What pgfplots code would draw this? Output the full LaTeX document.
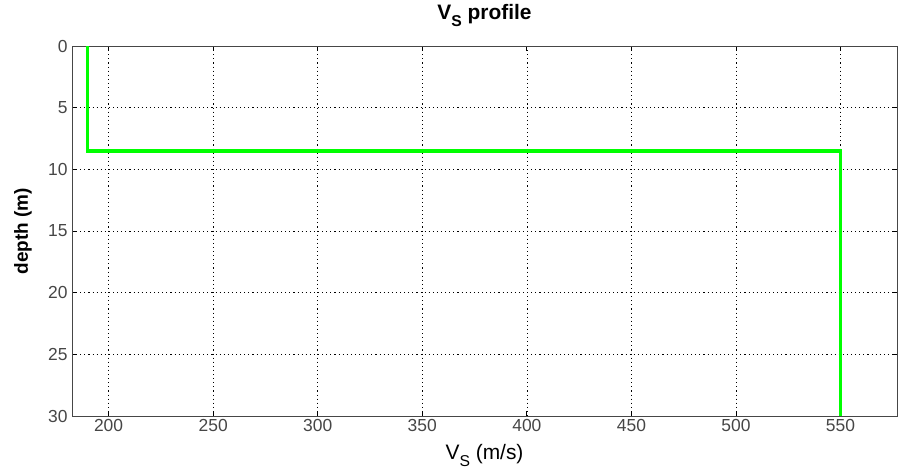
\documentclass[border=0pt]{standalone}
\usepackage{fontspec}
\setmainfont{Liberation Sans}
\usepackage{graphicx}
\usepackage{pgfplots}
\pgfplotsset{compat=1.18}
\definecolor{vsgreen}{RGB}{0,255,0}
\definecolor{ticktext}{RGB}{70,70,70}
% MATLAB-like subscript: large and dropped well below the baseline
\newcommand\msub[1]{\raisebox{-0.38em}{\scalebox{0.75}{#1}}}
\begin{document}
\begin{tikzpicture}
\begin{axis}[
  scale only axis,
  width=825bp, height=370bp,
  xmin=182.5, xmax=577,
  ymin=0, ymax=30,
  y dir=reverse,
  xtick={200,250,...,550},
  ytick={0,5,...,30},
  tick align=inside,
  major tick length=5bp,
  grid=major,
  grid style={black, dash pattern=on 1.1bp off 3bp, line width=0.7pt},
  axis line style={ticktext, line width=0.9pt},
  tick style={black, line width=0.9pt},
  ticklabel style={font=\fontsize{17.5}{19}\selectfont, text=ticktext},
  yticklabel style={xshift=-1bp},
  /pgf/number format/assume math mode=true,
  title={\textbf{V\msub{S} profile}},
  title style={font=\fontsize{21}{23}\selectfont, at={(axis description cs:0.5,1)}, anchor=base, yshift=21bp},
  xlabel={V\msub{S} (m/s)},
  xlabel style={font=\fontsize{21}{23}\selectfont, at={(axis description cs:0.5,0)}, anchor=base, yshift=-43bp},
  ylabel={\textbf{depth (m)}},
  ylabel style={font=\fontsize{19}{21}\selectfont, at={([xshift=-44bp]axis description cs:0,0.5)}, anchor=base, rotate=0},
]
\addplot[vsgreen, line width=3.6pt, line join=miter] coordinates {
  (190, 0) (190, 8.5) (550, 8.5) (550, 30)
};
\end{axis}
\pgfresetboundingbox
\path (-72bp,-53bp) rectangle (827bp,416bp);
\end{tikzpicture}
\end{document}
